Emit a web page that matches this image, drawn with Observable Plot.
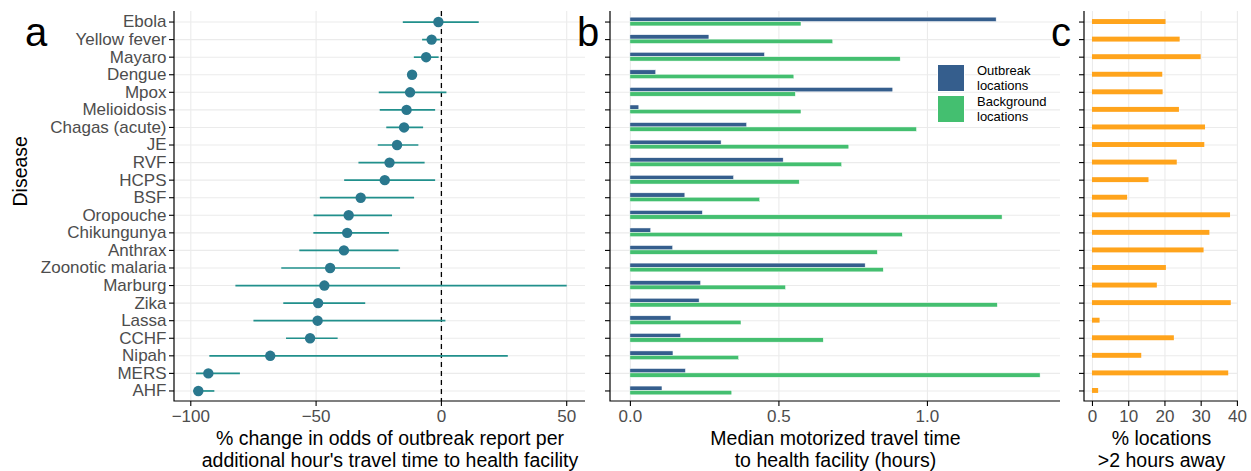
<!DOCTYPE html>
<html><head><meta charset="utf-8">
<script src="https://cdn.jsdelivr.net/npm/d3@7"></script>
<script src="https://cdn.jsdelivr.net/npm/@observablehq/plot@0.6"></script>
<style>
body{margin:0;background:#fff;font-family:"Liberation Sans",Arial,sans-serif;}
#wrap{position:relative;width:1251px;height:471px;overflow:hidden;background:#fff;}
.panel{position:absolute;top:0;}
.letter{position:absolute;font-size:40px;color:#000;line-height:1;}
.sw{position:absolute;width:28px;height:28px;box-sizing:border-box;border:1px solid #fff;}
.lt{position:absolute;font-size:13px;line-height:14.7px;color:#000;}
</style></head><body><div id="wrap"></div>
<script>
const diseases = ["Ebola","Yellow fever","Mayaro","Dengue","Mpox","Melioidosis","Chagas (acute)","JE","RVF","HCPS","BSF","Oropouche","Chikungunya","Anthrax","Zoonotic malaria","Marburg","Zika","Lassa","CCHF","Nipah","MERS","AHF"];
const pctChange = [-1.2,-3.9,-6.1,-11.7,-12.5,-13.9,-14.9,-17.7,-20.7,-22.6,-32.2,-37.0,-37.6,-38.9,-44.4,-46.7,-49.2,-49.4,-52.4,-68.3,-93.0,-97.0];
const ciLow = [-15.2,-7.5,-10.8,-13.2,-24.8,-24.4,-21.8,-25.2,-32.9,-38.6,-48.3,-50.8,-50.9,-56.5,-63.7,-82.0,-62.9,-74.8,-61.8,-92.4,-97.7,-98.8];
const ciHigh = [15.1,-0.4,-0.9,-10.2,2.2,-2.3,-7.1,-9.0,-6.5,-2.3,-10.7,-19.5,-20.7,-16.9,-16.3,50.2,-30.2,1.8,-41.2,26.7,-80.2,-90.4];
const outbreakHours = [1.233,0.266,0.453,0.087,0.885,0.030,0.393,0.307,0.516,0.349,0.185,0.244,0.070,0.144,0.792,0.238,0.233,0.138,0.171,0.145,0.187,0.108];
const backgroundHours = [0.576,0.683,0.910,0.552,0.557,0.576,0.965,0.737,0.713,0.570,0.437,1.253,0.917,0.833,0.853,0.524,1.237,0.374,0.651,0.366,1.381,0.343];
const pctFar = [20.3,24.2,30.0,19.4,19.5,24.0,31.2,31.0,23.4,15.6,9.7,38.1,32.4,30.8,20.4,17.9,38.3,2.1,22.6,13.6,37.6,1.7];
const ticksA = [-100,-50,0,50];
const ticksB = [0,0.5,1.0];
const ticksC = [0,10,20,30,40];
const titleA = "% change in odds of outbreak report per\nadditional hour's travel time to health facility";
const titleB = "Median motorized travel time\nto health facility (hours)";
const titleC = "% locations\n>2 hours away";
const titleY = "Disease";
const legendLabels = ["Outbreak\nlocations","Background\nlocations"];

const H = 471, MT = 11, MB = 70;
const step = (H - MT - MB) / (diseases.length + 0.2);
const FONT = "Liberation Sans, Arial, sans-serif";
const GRID = "#ebebeb";
const TICKC = "#4d4d4d";
const TICKFS = 17;
const TITLEFS = 19.5;

const rows = diseases.map((d, i) => ({disease: d, est: pctChange[i], lo: ciLow[i], hi: ciHigh[i],
  outbreak: outbreakHours[i], background: backgroundHours[i], far: pctFar[i]}));

function axisLines(index, scales, values, dim) {
  const {width: w, height: h, marginLeft: l, marginTop: t, marginRight: r, marginBottom: b} = dim;
  const p = document.createElementNS("http://www.w3.org/2000/svg", "path");
  p.setAttribute("d", `M${l},${t}V${h - b}H${w - r}`);
  p.setAttribute("fill", "none");
  p.setAttribute("stroke", "black");
  p.setAttribute("stroke-width", "1.2");
  return p;
}

function commonAxes(ticks, fmt, title, titleDx = 0) {
  return [
    Plot.axisX({ticks, tickSize: 5, tickFormat: () => "", stroke: "black", strokeWidth: 1.1, label: null}),
    Plot.axisX({ticks, tickSize: 0, tickPadding: 8, tickFormat: fmt, color: TICKC, fontSize: TICKFS, label: null}),
    Plot.axisY({tickSize: 5, tickFormat: () => "", stroke: "black", strokeWidth: 1.1, label: null}),
    Plot.text([title], {text: d => d, frameAnchor: "bottom", lineAnchor: "top", dy: 29, dx: titleDx, fontSize: TITLEFS, lineHeight: 1.08, fill: "black"}),
    axisLines
  ];
}

const wrap = document.getElementById("wrap");
function place(node, left) {
  node.classList.add("panel");
  node.style.left = left + "px";
  wrap.appendChild(node);
}

// Panel a
const pa = Plot.plot({
  width: 590, height: H, marginLeft: 174, marginRight: 5, marginTop: MT, marginBottom: MB,
  style: {fontFamily: FONT, background: "transparent", overflow: "visible"},
  x: {domain: [-106.5, 57.5]},
  y: {type: "point", domain: diseases, padding: 0.6, round: false},
  marks: [
    Plot.gridX({ticks: ticksA, stroke: GRID, strokeOpacity: 1, strokeWidth: 1.1}),
    Plot.gridY({stroke: GRID, strokeOpacity: 1, strokeWidth: 1.1}),
    Plot.ruleX([0], {stroke: "black", strokeWidth: 1.3, strokeDasharray: "5,4"}),
    Plot.ruleY(rows, {y: "disease", x1: "lo", x2: "hi", stroke: "#21908C", strokeWidth: 1.7}),
    Plot.dot(rows, {y: "disease", x: "est", r: 5.2, fill: "#2A788E", stroke: "none"}),
    ...commonAxes(ticksA, d3.format("d"), titleA, 10),
    Plot.axisY({tickSize: 0, tickPadding: 8, color: TICKC, fontSize: TICKFS, label: null}),
    Plot.text([titleY], {text: d => d, frameAnchor: "left", rotate: -90, dx: -154, fontSize: TITLEFS, fill: "black"})
  ]
});
place(pa, 0);

// Panel b
const pb = Plot.plot({
  width: 472, height: H, marginLeft: 20, marginRight: 2, marginTop: MT, marginBottom: MB,
  style: {fontFamily: FONT, background: "transparent", overflow: "visible"},
  x: {domain: [-0.067, 1.448]},
  y: {type: "band", domain: diseases, paddingInner: 0.5, paddingOuter: 0.35, round: false},
  marks: [
    Plot.gridX({ticks: ticksB, stroke: GRID, strokeOpacity: 1, strokeWidth: 1.1}),
    Plot.gridY({stroke: GRID, strokeOpacity: 1, strokeWidth: 1.1}),
    Plot.barX(rows, {y: "disease", x: "outbreak", fill: "#355E8D", stroke: "white", strokeWidth: 0.5, insetBottom: step * 0.25}),
    Plot.barX(rows, {y: "disease", x: "background", fill: "#44BF70", stroke: "white", strokeWidth: 0.5, insetTop: step * 0.25}),
    ...commonAxes(ticksB, d3.format(".1f"), titleB)
  ]
});
place(pb, 590);

// Panel c
const pc = Plot.plot({
  width: 189, height: H, marginLeft: 22, marginRight: 13, marginTop: MT, marginBottom: MB,
  style: {fontFamily: FONT, background: "transparent", overflow: "visible"},
  x: {domain: [-2.2, 40.3]},
  y: {type: "band", domain: diseases, paddingInner: 0.72, paddingOuter: 0.46, round: false},
  marks: [
    Plot.gridX({ticks: ticksC, stroke: GRID, strokeOpacity: 1, strokeWidth: 1.1}),
    Plot.gridY({stroke: GRID, strokeOpacity: 1, strokeWidth: 1.1}),
    Plot.barX(rows, {y: "disease", x: "far", fill: "#FFA41C"}),
    ...commonAxes(ticksC, d3.format("d"), titleC)
  ]
});
place(pc, 1062);

// Panel letters
[["a", 25], ["b", 577], ["c", 1051]].forEach(([t, x]) => {
  const d = document.createElement("div");
  d.className = "letter"; d.textContent = t;
  d.style.left = x + "px"; d.style.top = "12px";
  wrap.appendChild(d);
});

// Legend
const legendColors = ["#355E8D", "#44BF70"];
legendLabels.forEach((lab, i) => {
  const s = document.createElement("div");
  s.className = "sw"; s.style.background = legendColors[i];
  s.style.left = "937px"; s.style.top = (64 + i * 31) + "px";
  wrap.appendChild(s);
  const t = document.createElement("div");
  t.className = "lt"; t.style.left = "977px"; t.style.top = (64 + i * 31) + "px";
  t.innerHTML = lab.replace("\n", "<br>");
  wrap.appendChild(t);
});
</script></body></html>
